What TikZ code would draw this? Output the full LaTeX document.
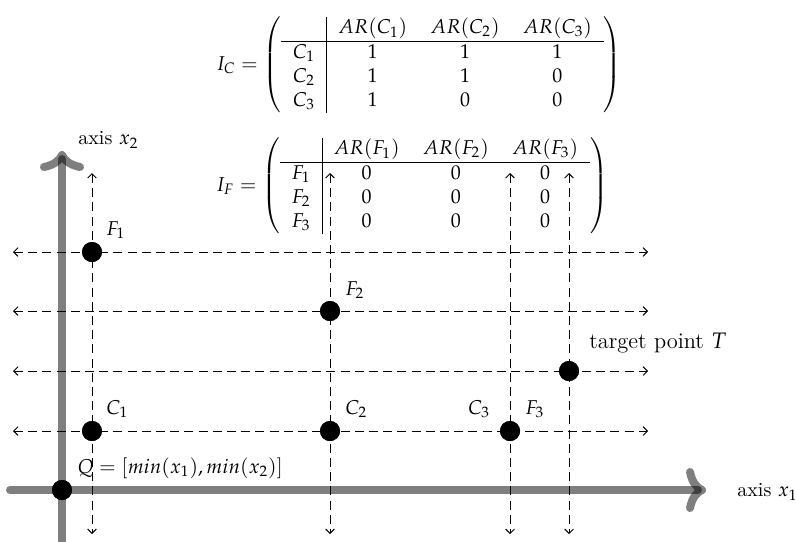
\documentclass[tikz,border=0pt]{standalone}
\usepackage{mathpazo}
\usetikzlibrary{arrows.meta}
\tikzset{
  dline/.style={line width=0.45pt, dash pattern=on 4.5pt off 2.6pt, arrows={Straight Barb[length=2.2pt,width=4.4pt]-Straight Barb[length=2.2pt,width=4.4pt]}},
  axisline/.style={line width=4pt, draw=black, draw opacity=0.5, line cap=round,
    -{Computer Modern Rightarrow[length=10pt,width=22pt,line width=4pt,round]}},
  pt/.style={circle, fill=black, inner sep=0pt, minimum size=10pt},
  lbl/.style={inner sep=0pt}
}
\setlength{\arraycolsep}{5.8pt}
\begin{document}
\begin{tikzpicture}[x=0.5pt,y=-0.5pt]
\useasboundingbox (0,0) rectangle (796,541);
% axes
\coordinate (xa0) at (10,490);
\coordinate (xa1) at (706,490);
\coordinate (ya0) at (62,560);
\coordinate (ya1) at (62,151);
\draw[axisline] (xa0) -- (xa1);
\draw[axisline] (ya0) -- (ya1);
% points
\node[pt] (F1) at (92,252) {};
\node[pt] (F2) at (330,311) {};
\node[pt] (T) at (569,371) {};
\node[pt] (C1) at (92,431) {};
\node[pt] (C2) at (330,431) {};
\node[pt] (C3) at (510,431) {};
\node[pt] (Q) at (62,490) {};
% horizontal dashed lines
\foreach \n/\y in {F1/252,F2/311,T/371,C1/431}{
  \coordinate (h\n l) at (13,\y);
  \coordinate (h\n r) at (648,\y);
  \draw[dline] (h\n l) -- (h\n r);
}
% vertical dashed lines
\foreach \n/\x in {a/92,b/330,c/510,d/569}{
  \coordinate (v\n t) at (\x,173);
  \coordinate (v\n b) at (\x,534);
  \draw[dline] (v\n t) -- (v\n b);
}
% points on top
\foreach \n in {F1,F2,T,C1,C2,C3,Q}{ \fill (\n) circle (5pt); }
% labels
\node[lbl, anchor=west] (lF1) at (106,230) {$F_1$};
\node[lbl, anchor=west] (lF2) at (345,290) {$F_2$};
\node[lbl, anchor=west] (lT) at (589,343) {\fontsize{11.2}{13}\selectfont target point $T$};
\node[lbl, anchor=west] (lC1) at (106,409) {$C_1$};
\node[lbl, anchor=west] (lC2) at (345,409) {$C_2$};
\node[lbl] (lC3) at (479,409) {$C_3$};
\node[lbl, anchor=west] (lF3) at (525,409) {$F_3$};
\node[lbl, anchor=west] (lQ) at (77,468) {$Q=[min(x_1),min(x_2)]$};
\node[lbl, anchor=west] (lx2) at (78,140) {axis $x_2$};
\node[lbl, anchor=west] (lx1) at (737,492) {axis $x_1$};
% matrices
\node (IC) at (419,65) {$I_C = \left(\begin{array}{c|ccc}
  & AR(C_1) & AR(C_2) & AR(C_3) \\ \hline
  C_1 & 1 & 1 & 1 \\
  C_2 & 1 & 1 & 0 \\
  C_3 & 1 & 0 & 0
\end{array}\right)$};
\node (IF) at (412,186) {$I_F = \left(\begin{array}{c|ccc}
  & AR(F_1) & AR(F_2) & AR(F_3) \\ \hline
  F_1 & 0 & 0 & 0 \\
  F_2 & 0 & 0 & 0 \\
  F_3 & 0 & 0 & 0
\end{array}\right)$};
\end{tikzpicture}
\end{document}
